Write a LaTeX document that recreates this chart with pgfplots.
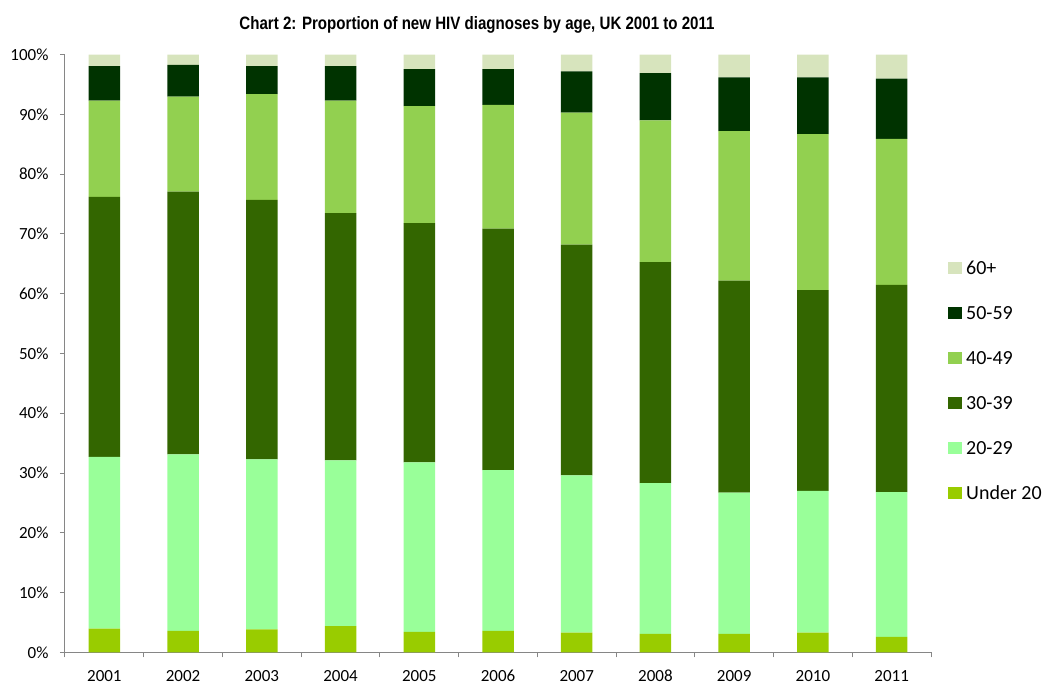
\documentclass[border=0pt]{standalone}
\usepackage{fontspec}
\setmainfont{Carlito}
\newfontfamily\titlefont{Liberation Sans}
\usepackage{pgfplots}
\pgfplotsset{compat=1.18}

\definecolor{under20}{RGB}{153,204,0}
\definecolor{age20}{RGB}{153,255,153}
\definecolor{age30}{RGB}{51,102,0}
\definecolor{age40}{RGB}{146,208,80}
\definecolor{age50}{RGB}{0,51,0}
\definecolor{age60}{RGB}{215,228,189}
\definecolor{axisgray}{RGB}{134,134,134}

\begin{document}
\begin{tikzpicture}
\path[use as bounding box] (0pt,0pt) rectangle (1044pt,684pt);
\node[anchor=base, inner sep=0pt] at (477pt,654pt) {\resizebox{475pt}{13pt}{\titlefont\bfseries Chart 2: Proportion of new HIV diagnoses by age, UK 2001 to 2011}};

\begin{axis}[
    at={(65pt,31.7pt)}, anchor=south west,
    scale only axis, width=866pt, height=597.6pt,
    ybar stacked, bar width=0.4,
    xmin=-0.5, xmax=10.5, ymin=0, ymax=100,
    axis lines*=left,
    axis line style={draw=axisgray, line width=1pt},
    tick align=outside, major tick length=5pt,
    tick style={draw=axisgray, line width=1pt},
    xtick={-0.5,0.5,...,10.5}, xticklabels={},
    extra x ticks={0,1,2,3,4,5,6,7,8,9,10},
    extra x tick labels={2001,2002,2003,2004,2005,2006,2007,2008,2009,2010,2011},
    extra x tick style={tick style={draw=none}},
    xticklabel style={anchor=base, inner sep=0pt, yshift=-24.5pt},
    ytick={0,10,...,100},
    yticklabel={\pgfmathprintnumber{\tick}\%},
    yticklabel style={xshift=-8pt},
    /pgf/number format/assume math mode=true,
    ticklabel style={font=\fontsize{17}{20}\selectfont},
    reverse legend,
    legend cell align=left,
    legend image code/.code={\fill[#1] (0pt,-7pt) rectangle (14pt,5.5pt);},
    legend style={at={(1.0196,0.4558)}, anchor=west, draw=none, fill=none,
        inner sep=0pt, row sep=31pt, column sep=4pt,
        font=\fontsize{20}{24}\selectfont,
        nodes={inner sep=0pt, text height=14pt, text depth=0pt}},
]
\addplot[fill=under20, draw=none] coordinates {(0,3.95)(1,3.6)(2,3.85)(3,4.4)(4,3.4)(5,3.6)(6,3.3)(7,3.1)(8,3.1)(9,3.3)(10,2.6)};
\addlegendentry{Under 20}
\addplot[fill=age20, draw=none] coordinates {(0,28.75)(1,29.5)(2,28.45)(3,27.7)(4,28.4)(5,26.9)(6,26.3)(7,25.2)(8,23.6)(9,23.7)(10,24.2)};
\addlegendentry{20-29}
\addplot[fill=age30, draw=none] coordinates {(0,43.5)(1,44.0)(2,43.4)(3,41.4)(4,40.0)(5,40.4)(6,38.6)(7,37.0)(8,35.5)(9,33.6)(10,34.7)};
\addlegendentry{30-39}
\addplot[fill=age40, draw=none] coordinates {(0,16.1)(1,15.9)(2,17.7)(3,18.8)(4,19.6)(5,20.7)(6,22.1)(7,23.7)(8,25.0)(9,26.1)(10,24.4)};
\addlegendentry{40-49}
\addplot[fill=age50, draw=none] coordinates {(0,5.8)(1,5.3)(2,4.7)(3,5.8)(4,6.2)(5,6.0)(6,6.9)(7,7.9)(8,9.0)(9,9.5)(10,10.1)};
\addlegendentry{50-59}
\addplot[fill=age60, draw=none] coordinates {(0,1.9)(1,1.7)(2,1.9)(3,1.9)(4,2.4)(5,2.4)(6,2.8)(7,3.1)(8,3.8)(9,3.8)(10,4.0)};
\addlegendentry{60+}
\end{axis}
\end{tikzpicture}
\end{document}
